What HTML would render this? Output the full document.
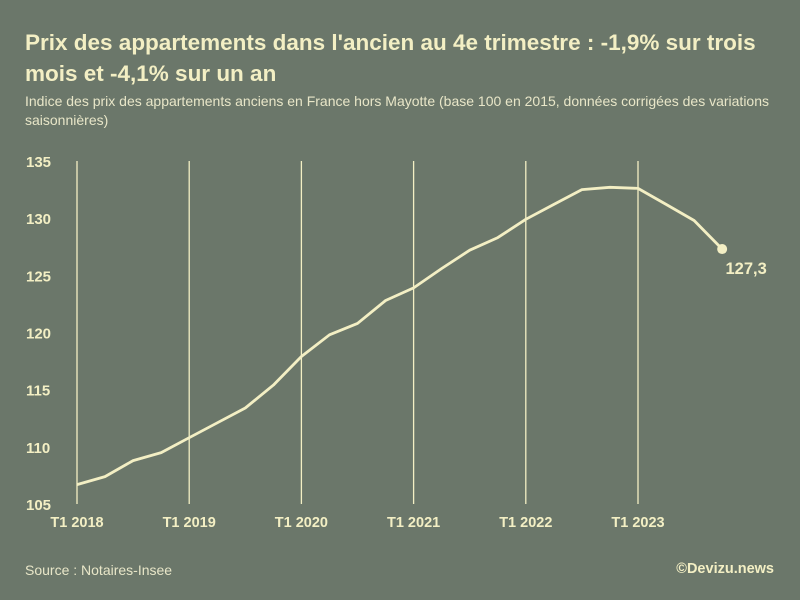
<!DOCTYPE html>
<html><head><meta charset="utf-8"><style>
body{margin:0;width:800px;height:600px;background:#6b776a;font-family:"Liberation Sans",sans-serif;color:#f3efc4;overflow:hidden}
#wrap{position:relative;width:800px;height:600px}
h1{position:absolute;left:25px;top:27px;margin:0;font-size:22.5px;line-height:31px;font-weight:bold;width:740px;color:#f3efc4}
.sub{position:absolute;left:25px;top:92px;font-size:14px;line-height:19px;width:760px;color:#e8e6c8}
.src{position:absolute;left:25px;top:562px;font-size:14px;color:#e8e6c8}
.brand{position:absolute;right:26px;top:561px;font-size:14.5px;font-weight:bold}
svg{position:absolute;left:0;top:0}
</style></head><body>
<div id="wrap">
<h1>Prix des appartements dans l'ancien au 4e trimestre : -1,9% sur trois mois et -4,1% sur un an</h1>
<div class="sub">Indice des prix des appartements anciens en France hors Mayotte (base 100 en 2015, données corrigées des variations saisonnières)</div>
<svg id="chart" width="800" height="600"></svg>
<div class="src">Source : Notaires-Insee</div>
<div class="brand">©Devizu.news</div>
</div>
<script>
const quarters = ["2018T1","2018T2","2018T3","2018T4","2019T1","2019T2","2019T3","2019T4","2020T1","2020T2","2020T3","2020T4","2021T1","2021T2","2021T3","2021T4","2022T1","2022T2","2022T3","2022T4","2023T1","2023T2","2023T3","2023T4"];
const values = [106.7,107.4,108.8,109.5,110.8,112.1,113.4,115.4,117.9,119.8,120.8,122.8,123.9,125.6,127.2,128.3,129.9,131.2,132.5,132.7,132.6,131.2,129.8,127.3];
const yTicks = [105,110,115,120,125,130,135];
const xTickLabels = ["T1 2018","T1 2019","T1 2020","T1 2021","T1 2022","T1 2023"];
const lastLabel = "127,3";

const NS="http://www.w3.org/2000/svg";
const svg=document.getElementById('chart');
const x0=77, qStep=28.05, yTop=161, yBot=504, yMin=105, yMax=135;
const xs=i=>x0+i*qStep;
const ys=v=>yBot-(v-yMin)/(yMax-yMin)*(yBot-yTop);
const col="#f3efc4";
function mk(t,a){const e=document.createElementNS(NS,t);for(const k in a)e.setAttribute(k,a[k]);svg.appendChild(e);return e;}

yTicks.forEach(v=>{
  const t=mk('text',{x:26,y:ys(v)+6,fill:col,'font-size':15,'font-weight':'bold','font-family':'Liberation Sans, sans-serif'});
  t.textContent=v;
  
  
});
xTickLabels.forEach((lab,i)=>{
  const x=xs(i*4);
  const l=mk('line',{x1:x,x2:x,y1:yTop,y2:yBot,stroke:col,'stroke-width':1.3});
  
  
  const t=mk('text',{x:x,y:527,fill:col,'font-size':14.5,'font-weight':'bold','text-anchor':'middle','font-family':'Liberation Sans, sans-serif'});
  t.textContent=lab;
  
  
});
const p=mk('path',{d:values.map((v,i)=>(i?'L':'M')+xs(i).toFixed(1)+' '+ys(v).toFixed(1)).join(' '),fill:'none',stroke:col,'stroke-width':2.8,'stroke-linejoin':'round'});


const n=values.length-1;
const c=mk('circle',{cx:xs(n),cy:ys(values[n]),r:5,fill:col});


const lt=mk('text',{x:xs(n)+24,y:ys(values[n])+25,fill:col,'font-size':16.5,'font-weight':'bold','text-anchor':'middle','font-family':'Liberation Sans, sans-serif'});
lt.textContent=lastLabel;


</script>
</body></html>
